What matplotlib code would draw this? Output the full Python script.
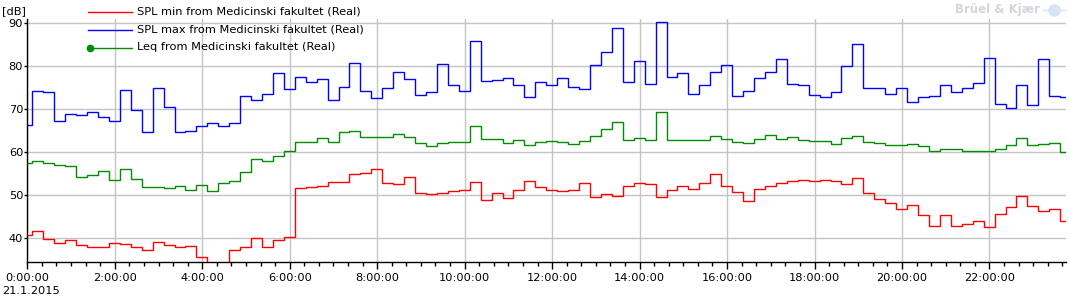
import matplotlib
matplotlib.use('Agg')
import matplotlib.pyplot as plt
from matplotlib.lines import Line2D
from matplotlib.ticker import MultipleLocator, FuncFormatter


# 15 minute intervals, first one is partial (0:00 - 0:07), last ends at 23:45
START_OFFSET_H = 7 / 60
STEP_H = 0.25
END_H = 23.75

spl_min = [40.7, 41.6, 39.85, 38.8, 39.5, 38.4, 37.9, 37.9, 38.8, 38.6,
           37.9, 37.2, 39.1, 38.4, 37.9, 38.1, 35.7, 33.0, 33.0, 37.2,
           37.9, 40.0, 37.9, 39.5, 40.2, 51.6, 51.8, 52.05, 53.0, 53.0,
           54.9, 55.15, 56.0, 52.85, 52.5, 54.15, 50.5, 50.2, 50.5, 50.9,
           51.1, 53.0, 48.8, 50.5, 49.3, 51.1, 53.2, 51.8, 51.1, 50.9,
           51.1, 52.75, 49.5, 50.2, 49.8, 52.05, 52.75, 52.5, 49.5, 51.1,
           52.05, 51.4, 52.75, 54.8, 52.05, 50.7, 48.6, 51.4, 52.05, 52.85,
           53.2, 53.45, 53.2, 53.45, 53.2, 52.5, 53.9, 50.4, 49.0, 48.1,
           46.7, 47.65, 45.3, 42.8, 45.3, 42.8, 43.25, 43.95, 42.55, 45.6,
           47.2, 49.75, 47.4, 46.3, 46.7, 43.95]

spl_max = [66.2, 74.1, 73.85, 67.1, 68.75, 68.5, 69.2, 68.05, 67.1, 74.3,
           69.75, 64.6, 74.8, 70.4, 64.6, 64.8, 66.0, 66.7, 66.0, 66.7,
           72.9, 72.1, 73.4, 78.3, 74.5, 77.3, 76.2, 77.0, 72.1, 75.0,
           80.6, 74.2, 72.5, 74.8, 78.6, 76.9, 73.15, 73.85, 80.35, 75.5,
           74.1, 85.7, 76.5, 76.6, 77.1, 75.5, 72.7, 76.2, 75.5, 77.1,
           75.0, 74.5, 80.1, 83.1, 88.7, 76.2, 81.0, 75.7, 90.1, 77.3,
           78.25, 73.4, 75.5, 78.5, 80.1, 72.9, 74.2, 77.1, 78.6, 81.5,
           75.7, 75.5, 73.15, 72.7, 73.85, 79.9, 85.05, 74.8, 74.8, 73.4,
           74.8, 71.55, 72.7, 72.9, 75.5, 73.85, 74.8, 75.9, 81.7, 71.1,
           70.1, 75.5, 70.8, 81.5, 72.9, 72.7]

leq = [57.4, 57.85, 57.4, 57.0, 56.8, 54.15, 54.7, 55.5, 53.4, 56.0,
       53.7, 51.8, 51.8, 51.6, 52.05, 51.1, 52.35, 50.9, 52.75, 53.2,
       55.3, 58.3, 58.0, 59.1, 60.2, 62.25, 62.25, 63.3, 62.25, 64.6,
       64.8, 63.5, 63.5, 63.5, 64.1, 63.5, 62.0, 61.3, 62.0, 62.25,
       62.25, 66.0, 63.0, 63.0, 62.0, 62.7, 61.55, 62.25, 62.5, 62.25,
       61.8, 62.5, 63.65, 65.35, 66.9, 62.7, 63.3, 62.7, 69.2, 62.7,
       62.7, 62.7, 62.7, 63.65, 62.9, 62.25, 62.0, 62.9, 63.9, 62.9,
       63.5, 62.7, 62.5, 62.5, 61.8, 63.3, 63.65, 62.25, 62.0, 61.55,
       61.55, 61.8, 61.3, 60.2, 60.6, 60.6, 60.2, 60.2, 60.2, 60.6,
       61.55, 63.3, 61.55, 61.8, 62.0, 59.9]

labels = ['SPL min from Medicinski fakultet (Real)',
          'SPL max from Medicinski fakultet (Real)',
          'Leq from Medicinski fakultet (Real)']
colors = ['#ff0000', '#0000ff', '#008c00']

edges = [0.0] + [START_OFFSET_H + k * STEP_H for k in range(len(leq) - 1)] + [END_H]

W, H = 1069, 299
fig = plt.figure(figsize=(W / 100, H / 100), dpi=100)
plt.rcParams['font.family'] = ['DejaVu Sans']
FS = 8.2

left, right, bottom, top = 27.3, 1066, 262.3, 19
ax = fig.add_axes([left / W, 1 - bottom / H, (right - left) / W, (bottom - top) / H])

for vals, c in zip([spl_min, spl_max, leq], colors):
    ax.stairs(vals, edges, color=c, lw=1.0, baseline=None, zorder=3)

ax.set_xlim(0, END_H)
ax.set_ylim(34.4, 90.85)

ax.xaxis.set_major_locator(MultipleLocator(2))
ax.xaxis.set_minor_locator(MultipleLocator(1 / 3))
ax.xaxis.set_major_formatter(FuncFormatter(lambda v, p: f'{int(round(v))}:00:00'))
ax.yaxis.set_major_locator(MultipleLocator(10))

ax.grid(True, which='major', color='#c4c4c4', lw=1.0, zorder=0)
for s in ['top', 'right']:
    ax.spines[s].set_visible(False)
for s in ['left', 'bottom']:
    ax.spines[s].set_linewidth(1.0)
    ax.spines[s].set_color('black')

ax.tick_params(axis='x', which='major', length=5, width=1, labelsize=FS, pad=3)
ax.tick_params(axis='x', which='minor', length=3, width=1)
ax.tick_params(axis='y', which='major', length=2, width=1, labelsize=FS, pad=1)

fig.text(2 / W, 1 - 11 / H, '[dB]', fontsize=FS, va='center', ha='left')
fig.text(2 / W, 1 - 291 / H, '21.1.2015', fontsize=FS, va='center', ha='left')

# legend drawn by hand (green entry has its marker at the left end)
rows = [11.5, 30, 47.5]
for i, (lab, c) in enumerate(zip(labels, colors)):
    yy = 1 - rows[i] / H
    fig.add_artist(Line2D([88 / W, 132 / W], [yy, yy], color=c, lw=1.0))
    if i == 2:
        fig.add_artist(Line2D([90 / W], [yy], color=c, marker='o', ms=4.5, lw=0))
    fig.text(137 / W, yy, lab, fontsize=FS, va='center', ha='left')

# watermark
fig.text(1040 / W, 1 - 10 / H, 'Brüel & Kjær', fontsize=FS + 0.3, fontweight='bold',
         color='#d2d6dc', va='center', ha='right')
fig.add_artist(Line2D([1054 / W], [1 - 10 / H], marker='o', ms=8, color='#d6e4f4', lw=0))
fig.add_artist(Line2D([1043 / W, 1066 / W], [1 - 10 / H, 1 - 10 / H], color='#d6e4f4', lw=1.0))

fig.savefig('out.png', dpi=100)
